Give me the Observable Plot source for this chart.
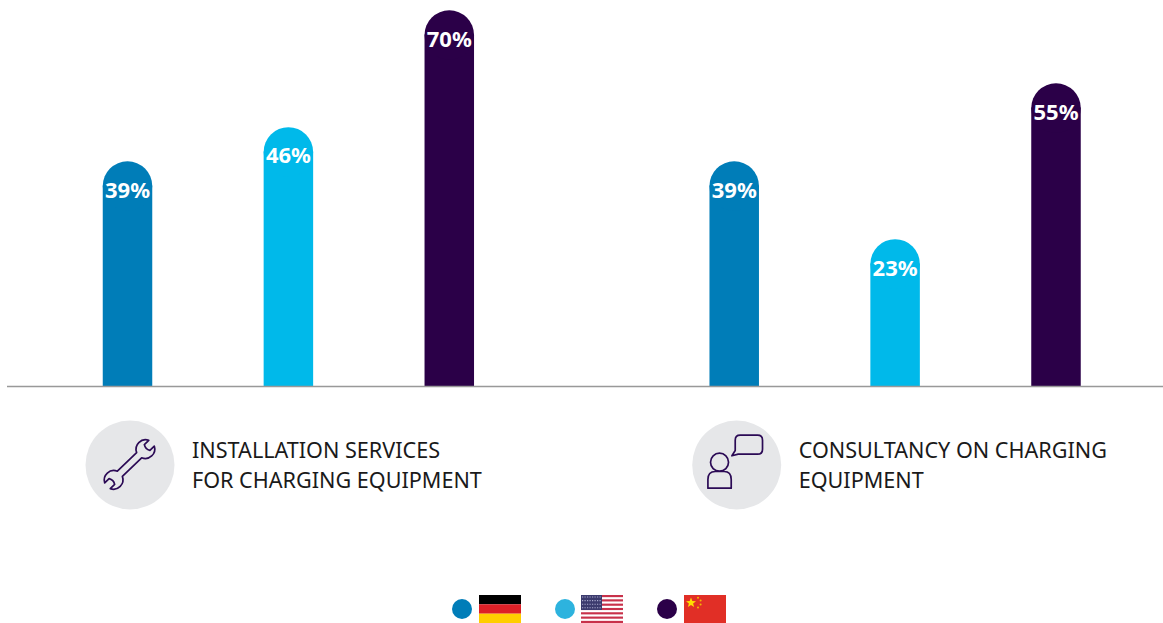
<!DOCTYPE html>
<html>
<head>
<meta charset="utf-8">
<script src="https://cdn.jsdelivr.net/npm/d3@7"></script>
<script src="https://cdn.jsdelivr.net/npm/@observablehq/plot@0.6"></script>
<style>
  html, body { margin: 0; padding: 0; background: #fff; overflow: hidden; }
  svg { display: block; }
  #legend { position: relative; width: 1163px; height: 28px; }
  #legend span, #legend svg { position: absolute; }
  #legend span { width: 20px; height: 20px; border-radius: 50%; top: 4px; }
</style>
</head>
<body>
<div id="chart"></div>
<div id="legend"></div>
<script>
const services = ["INSTALLATION SERVICES\nFOR CHARGING EQUIPMENT", "CONSULTANCY ON CHARGING\nEQUIPMENT"];
const countries = ["Germany", "United States", "China"];
const installationValues = [39, 46, 70];
const consultancyValues = [39, 23, 55];
const barColors = ["#007db8", "#00b9ea", "#2b0048"];
const legendColors = ["#007db8", "#2db3de", "#2b0048"];

// Distance between the two groups, measured in bar steps, and the value at the floor line.
const groupStep = 3.771;
const floorValue = -2.155;

const rows = [installationValues, consultancyValues].flatMap((values, g) =>
  values.map((value, i) => ({
    service: services[g],
    country: countries[i],
    slot: g * groupStep + i,
    value
  }))
);
const groups = services.map((service, g) => ({service, slot: g * groupStep}));

// Line icons, drawn around the centre of each grey disc.
const iconPaths = [
  {
    transform: "rotate(-44)",
    d: "M13.4,-3.6 A9.5,9.5 0 0 1 30.6,-4 L24.5,-4 Q22,0 24.5,4 L30.6,4 A9.5,9.5 0 0 1 13.4,3.6 " +
       "L-13.4,3.6 A9.5,9.5 0 0 1 -30.6,4 L-24.5,4 Q-22,0 -24.5,-4 L-30.6,-4 A9.5,9.5 0 0 1 -13.4,-3.6 Z"
  },
  {
    transform: "",
    d: "M-7.7,-2.3 A9,9 0 1 1 -25.7,-2.3 A9,9 0 1 1 -7.7,-2.3 Z " +
       "M-28.3,23.7 L-28.3,15 Q-28.3,7 -21,7 L-12,7 Q-5,7 -5,15 L-5,23.7 Z " +
       "M4,-29.3 L21.3,-29.3 Q26.3,-29.3 26.3,-24.3 L26.3,-15.3 Q26.3,-10.3 21.3,-10.3 L2,-10.3 L-4.3,-8.7 L-1,-14 L-1,-24.3 Q-1,-29.3 4,-29.3 Z"
  }
];

function icons(index, {x, y}) {
  const g = d3.create("svg:g")
    .attr("fill", "none")
    .attr("stroke", "#2b0a55")
    .attr("stroke-width", 1.7)
    .attr("stroke-linejoin", "round");
  groups.forEach((group, i) => {
    g.append("path")
      .attr("d", iconPaths[i].d)
      .attr("transform", `translate(${x(group.slot) + 2.5},${y(floorValue) + 78.5}) ${iconPaths[i].transform}`);
  });
  return g.node();
}

const chart = Plot.plot({
  width: 1163,
  height: 595,
  marginLeft: 7,
  marginRight: 0,
  marginTop: 0,
  marginBottom: 0,
  style: {background: "#fff"},
  x: {axis: null, domain: [0, groupStep + 2], range: [127, 1055.5]},
  y: {axis: null, domain: [0, 70], range: [375.5, 34.5]},
  color: {domain: countries, range: barColors},
  marks: [
    // Each bar is a wide rule capped with a disc of the same width.
    Plot.ruleX(rows, {x: "slot", y1: floorValue, y2: "value", stroke: "country", strokeWidth: 49.5}),
    Plot.dot(rows, {x: "slot", y: "value", r: 24.75, fill: "country"}),
    Plot.text(rows, {
      x: "slot", y: "value", text: d => `${d.value}%`, dy: 4.5,
      fill: "#fff", fontSize: 22, fontWeight: 700, fontFamily: "Noto Sans"
    }),
    Plot.ruleY([floorValue], {stroke: "#999", strokeWidth: 1.5}),
    Plot.dot(groups, {x: "slot", y: () => floorValue, r: 44.5, fill: "#e6e7e9", dx: 2.5, dy: 78.5}),
    icons,
    Plot.text(groups, {
      x: "slot", y: () => floorValue, text: "service", dx: 64.5, dy: 76.5,
      textAnchor: "start", lineAnchor: "middle", lineHeight: 30 / 21.6,
      fontSize: 21.6, fill: "#1a1a1a", fontFamily: "Noto Sans"
    })
  ]
});
document.getElementById("chart").append(chart);

// Flags drawn in a 42 by 28 box.
const flags = [
  `<rect width="42" height="9.3" fill="#000"/><rect y="9.3" width="42" height="9.4" fill="#dd2027"/><rect y="18.7" width="42" height="9.3" fill="#ffce00"/>`,
  `<rect width="42" height="28" fill="#fff"/>` +
    d3.range(7).map(i => `<rect y="${i * 4.31}" width="42" height="2.15" fill="#c8314a"/>`).join("") +
    `<rect width="21" height="15" fill="#3c3b6e"/>` +
    d3.range(4).map(r => `<line x1="1" x2="20" y1="${2 + r * 3.6}" y2="${2 + r * 3.6}" stroke="#a9a9cc" stroke-width="1.1" stroke-dasharray="1.2 1.3"/>`).join(""),
  `<rect width="42" height="28" fill="#e12f26"/>` +
    `<polygon points="7,2.6 8.3,6.1 12,6.2 9.1,8.4 10.1,12 7,9.9 3.9,12 4.9,8.4 2,6.2 5.7,6.1" fill="#ffde00"/>` +
    `<circle cx="14" cy="2.8" r="1" fill="#f5b800"/><circle cx="16.6" cy="5.6" r="1" fill="#f5b800"/><circle cx="16.6" cy="9.6" r="1" fill="#f5b800"/><circle cx="14" cy="12.6" r="1" fill="#f5b800"/>`
];
const circleLeft = [452, 554.5, 657];
const flagLeft = [479, 581, 684];
document.getElementById("legend").innerHTML = countries.map((name, i) =>
  `<span style="left:${circleLeft[i]}px;background:${legendColors[i]}"></span>` +
  `<svg style="left:${flagLeft[i]}px" width="42" height="28" viewBox="0 0 42 28" role="img" aria-label="${name}">${flags[i]}</svg>`
).join("");
</script>
</body>
</html>
